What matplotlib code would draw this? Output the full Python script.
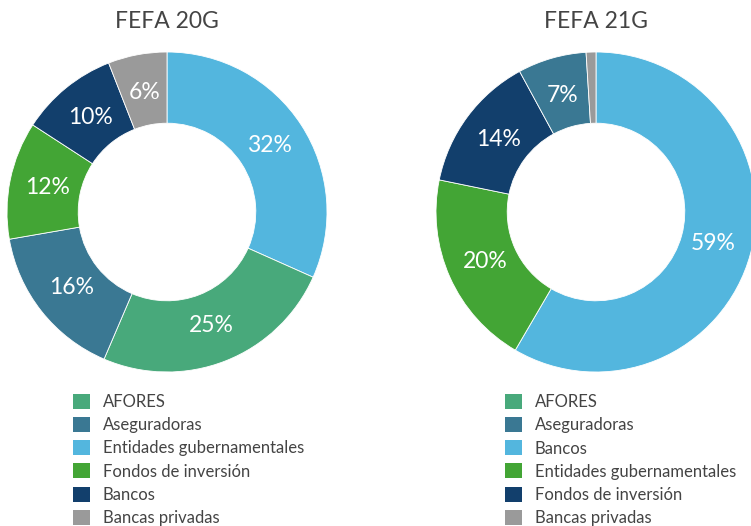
import matplotlib
matplotlib.use("Agg")
from matplotlib import pyplot as plt
from matplotlib.patches import Patch
import math

# colours by legend position (same in both charts)
colors = ["#48a97b", "#3a7893", "#53b6de", "#43a535", "#123f6c", "#9a9a9a"]

# FEFA 20G
labels_20 = ["AFORES", "Aseguradoras", "Entidades gubernamentales",
             "Fondos de inversión", "Bancos", "Bancas privadas"]
values_20 = [25, 16, 32, 12, 10, 6]
order_20 = [2, 0, 1, 3, 4, 5]      # clockwise from 12 o'clock

# FEFA 21G
labels_21 = ["AFORES", "Aseguradoras", "Bancos", "Entidades gubernamentales",
             "Fondos de inversión", "Bancas privadas"]
values_21 = [0, 7, 59, 20, 14, 1]
order_21 = [2, 3, 4, 1, 5]
show_pct_21 = [True, True, True, True, False]

plt.rcParams['font.family'] = ['Lato', 'DejaVu Sans']

W, H = 751, 526
fig = plt.figure(figsize=(W / 100, H / 100), dpi=100)


def px_axes(cx, cy, r):
    return fig.add_axes([(cx - r) / W, (H - cy - r) / H, 2 * r / W, 2 * r / H])


def donut(ax, values, order, show=None):
    vals = [values[i] for i in order]
    cols = [colors[i] for i in order]
    total = sum(vals)
    wedges, _ = ax.pie(vals, colors=cols, startangle=90, counterclock=False,
                       radius=1.0, wedgeprops=dict(width=0.445, edgecolor="white",
                                                   linewidth=0.6))
    ang = 90.0
    for k, v in enumerate(vals):
        span = 360.0 * v / total
        mid = math.radians(ang - span / 2)
        ang -= span
        if show is not None and not show[k]:
            continue
        ax.text(0.76 * math.cos(mid), 0.76 * math.sin(mid), "%d%%" % v,
                ha="center", va="center", color="white", fontsize=16.5)
    ax.set_xlim(-1, 1)
    ax.set_ylim(-1, 1)
    ax.set_aspect("equal")
    ax.axis("off")
    for w in wedges:
        w.set_clip_on(False)


ax1 = px_axes(167, 212, 160)
donut(ax1, values_20, order_20)
ax2 = px_axes(596, 212, 160)
donut(ax2, values_21, order_21, show_pct_21)

fig.text(167 / W, 1 - 22 / H, "FEFA 20G", ha="center", va="center",
         fontsize=16.5, color="#444444")
fig.text(596 / W, 1 - 22 / H, "FEFA 21G", ha="center", va="center",
         fontsize=16.5, color="#444444")

for labels, x0 in [(labels_20, 73), (labels_21, 505)]:
    handles = [Patch(facecolor=c, edgecolor="none") for c in colors]
    fig.legend(handles, labels, loc="upper left",
               bbox_to_anchor=(x0 / W, 1 - 394 / H), frameon=False,
               borderpad=0, borderaxespad=0, handlelength=1.0, handleheight=1.0,
               handletextpad=0.8, labelspacing=0.42, fontsize=12,
               labelcolor="#444444")

fig.savefig("out.png", dpi=100)
